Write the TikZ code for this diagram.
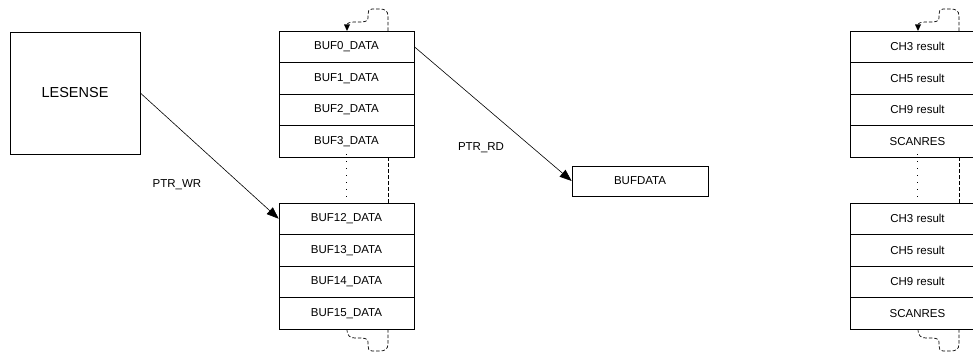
\documentclass[tikz,border=0pt]{standalone}
\usepackage{fontspec}
\setmainfont{Liberation Sans}
\usetikzlibrary{arrows.meta}
\begin{document}
\begin{tikzpicture}[x=1pt,y=-1pt,
  cell/.style={draw, line width=0.7pt, minimum width=135pt, minimum height=31.5pt, inner sep=0pt, font=\fontsize{11.5}{13}\selectfont},
  bigbox/.style={draw, line width=0.7pt, minimum width=130pt, minimum height=122pt, inner sep=0pt, font=\fontsize{14.5}{16}\selectfont},
  regbox/.style={draw, line width=0.7pt, minimum width=136pt, minimum height=30pt, inner sep=0pt, font=\fontsize{11.5}{13}\selectfont},
  lbl/.style={font=\fontsize{11.5}{13}\selectfont, inner sep=0pt},
  ptr/.style={line width=0.6pt, -{Triangle[length=12pt,width=9pt]}},
  loopline/.style={line width=0.7pt, dash pattern=on 3.5pt off 2pt},
  dotline/.style={line width=0.9pt, dash pattern=on 1pt off 6pt},
  vdash/.style={line width=0.7pt, dash pattern=on 4pt off 2pt}]
\clip (0,0) rectangle (973,353);
\fill[white] (0,0) rectangle (973,353);

% LESENSE
\node[bigbox] (les) at (75,93) {LESENSE};

% left buffer stack
\node[cell] (b0)  at (346.5,46.75)  {BUF0\_DATA};
\node[cell] (b1)  at (346.5,78.25)  {BUF1\_DATA};
\node[cell] (b2)  at (346.5,109.75) {BUF2\_DATA};
\node[cell] (b3)  at (346.5,141.25) {BUF3\_DATA};
\node[cell] (b12) at (346.5,218.75) {BUF12\_DATA};
\node[cell] (b13) at (346.5,250.25) {BUF13\_DATA};
\node[cell] (b14) at (346.5,281.75) {BUF14\_DATA};
\node[cell] (b15) at (346.5,313.25) {BUF15\_DATA};

% right result stack
\node[cell] (r0) at (917.5,46.75)  {CH3 result};
\node[cell] (r1) at (917.5,78.25)  {CH5 result};
\node[cell] (r2) at (917.5,109.75) {CH9 result};
\node[cell] (r3) at (917.5,141.25) {SCANRES};
\node[cell] (r4) at (917.5,218.75) {CH3 result};
\node[cell] (r5) at (917.5,250.25) {CH5 result};
\node[cell] (r6) at (917.5,281.75) {CH9 result};
\node[cell] (r7) at (917.5,313.25) {SCANRES};

% BUFDATA
\node[regbox] (bd) at (640,181) {BUFDATA};

% labels
\node[lbl] (pwr) at (177,185) {PTR\_WR};
\node[lbl] (prd) at (481,148) {PTR\_RD};

% pointers
\draw[ptr] (les.east) -- (b12.west);
\draw[ptr] (b0.east) -- (bd.west);

% gaps between stacks
\foreach \t/\bt in {b3/b12, r3/r4}{
  \draw[dotline] ([yshift=3pt]\t.south) -- (\bt.north);
  \draw[vdash] ([xshift=41.5pt]\t.south) -- ([xshift=41.5pt]\bt.north);
}

% wrap-around loops
\foreach \dx in {0,571}{
  \begin{scope}[xshift=\dx pt]
    \draw[loopline] (388,31) -- (388,16) .. controls (388,11) and (385,9) .. (380,9)
      -- (372,9) .. controls (369,9) and (368,11) .. (368,14) -- (368,18)
      .. controls (368,21) and (365,22) .. (361,22) -- (355,22)
      .. controls (350,22) and (347,23) .. (347,25);
    \fill (344,24.5) -- (350,24.5) -- (347,31) -- cycle;
    \draw[loopline] (388,329) -- (388,344) .. controls (388,349) and (385,351) .. (380,351)
      -- (372,351) .. controls (369,351) and (368,349) .. (368,346) -- (368,342)
      .. controls (368,339) and (365,338) .. (361,338) -- (355,338)
      .. controls (350,338) and (347,336) .. (347,329);
  \end{scope}
}
\end{tikzpicture}
\end{document}
